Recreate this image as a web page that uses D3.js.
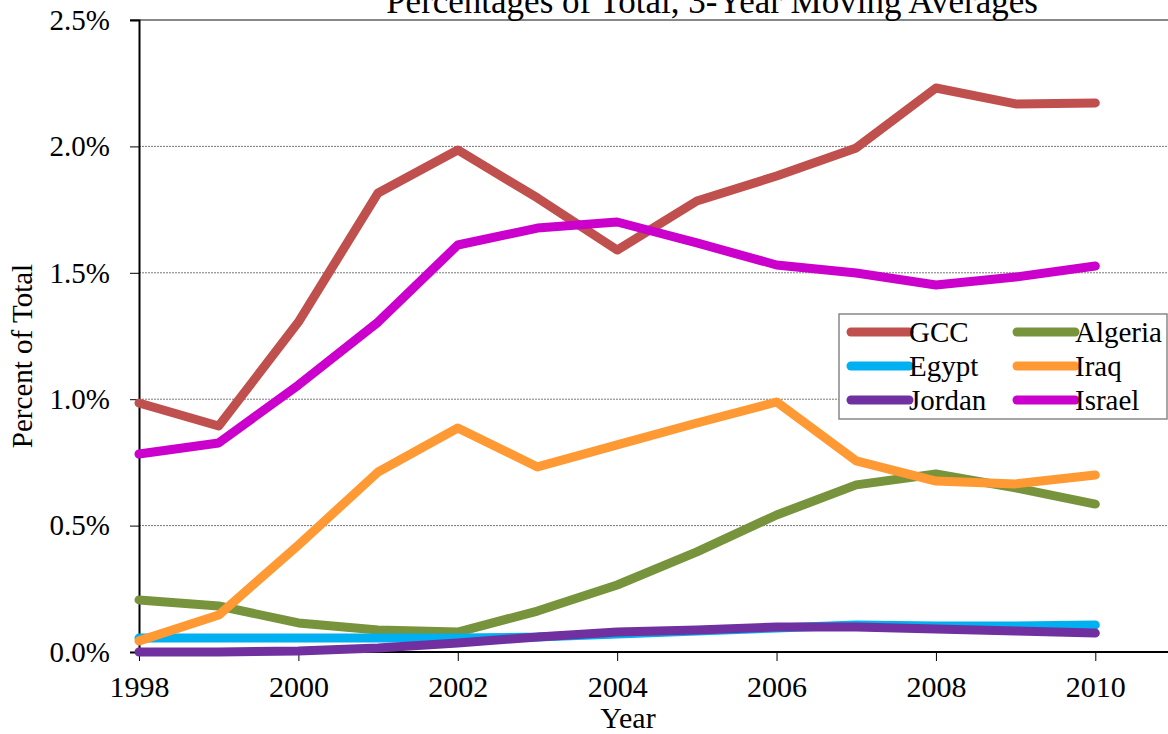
<!DOCTYPE html>
<html>
<head>
<meta charset="utf-8">
<script src="https://cdn.jsdelivr.net/npm/d3@7"></script>
<style>
  body { margin: 0; background: #fff; }
  svg { display: block; font-family: "Liberation Serif", "Times New Roman", serif; }
</style>
</head>
<body>
<svg width="1168" height="734"></svg>
<script>
// years on the x axis
var years = [1998, 1999, 2000, 2001, 2002, 2003, 2004, 2005, 2006, 2007, 2008, 2009, 2010];

// series values, percent of total
var gcc     = [0.985, 0.894, 1.305, 1.816, 1.986, 1.796, 1.590, 1.784, 1.883, 1.994, 2.231, 2.168, 2.172];
var algeria = [0.206, 0.182, 0.115, 0.087, 0.079, 0.162, 0.265, 0.396, 0.542, 0.661, 0.704, 0.649, 0.585];
var egypt   = [0.055, 0.055, 0.055, 0.055, 0.055, 0.059, 0.071, 0.083, 0.095, 0.107, 0.103, 0.103, 0.107];
var iraq    = [0.044, 0.146, 0.423, 0.712, 0.886, 0.732, 0.819, 0.906, 0.989, 0.756, 0.676, 0.665, 0.700];
var jordan  = [0.000, 0.000, 0.004, 0.016, 0.036, 0.059, 0.079, 0.087, 0.099, 0.099, 0.091, 0.083, 0.075];
var israel  = [0.783, 0.827, 1.056, 1.305, 1.610, 1.677, 1.701, 1.618, 1.531, 1.499, 1.452, 1.483, 1.527];

var seriesNames = ["GCC", "Algeria", "Egypt", "Iraq", "Jordan", "Israel"];
var seriesValues = [gcc, algeria, egypt, iraq, jordan, israel];
var colors = ["#C0504D", "#77933C", "#00B0F0", "#FF9933", "#7030A0", "#CC00CC"];

var yTicks = [0, 0.5, 1.0, 1.5, 2.0, 2.5];
var xTicks = [1998, 2000, 2002, 2004, 2006, 2008, 2010];

var title = "Percentages of Total, 3-Year Moving Averages";

// layout
var margin = {top: 20, left: 139},
    plotBottom = 652;

var svg = d3.select("svg");

var xScale = d3.scaleLinear().domain([1998, 2011]).range([139, 1175]);
var yScale = d3.scaleLinear().domain([0, 2.5]).range([plotBottom, margin.top]);

// gridlines
svg.append("g")
  .selectAll("line")
  .data(yTicks.filter(function(d) { return d > 0 && d < 2.5; }))
  .enter().append("line")
    .attr("x1", margin.left)
    .attr("x2", 1168)
    .attr("y1", function(d) { return yScale(d); })
    .attr("y2", function(d) { return yScale(d); })
    .style("stroke", "#777")
    .style("stroke-width", 1)
    .style("stroke-dasharray", "2,1");

// top border of the plot area
svg.append("line")
    .attr("x1", 130).attr("x2", 1168)
    .attr("y1", yScale(2.5)).attr("y2", yScale(2.5))
    .style("stroke", "#888")
    .style("stroke-width", 2);

// Y axis
var yAxis = svg.append("g")
    .attr("transform", "translate(" + margin.left + ",0)")
    .call(d3.axisLeft(yScale).tickValues(yTicks).tickSize(9).tickPadding(20)
      .tickFormat(function(d) { return d.toFixed(1) + "%"; }));
yAxis.select(".domain").style("stroke", "#000").style("stroke-width", 2);
yAxis.selectAll(".tick line").style("stroke", "#000").style("stroke-width", 1);
yAxis.selectAll("text").style("font-size", "29px").style("fill", "#000")
    .style("font-family", "Liberation Serif");

// X axis
var xAxis = svg.append("g")
    .attr("transform", "translate(0," + plotBottom + ")")
    .call(d3.axisBottom(xScale).tickValues(xTicks).tickSize(9).tickPadding(15)
      .tickFormat(d3.format("d")));
xAxis.select(".domain").attr("d", "M" + margin.left + ",0H1168")
    .style("stroke", "#000").style("stroke-width", 2);
xAxis.selectAll(".tick line").style("stroke", "#000").style("stroke-width", 1);
xAxis.selectAll("text").style("font-size", "30px").style("fill", "#000")
    .style("font-family", "Liberation Serif");

// lines
var line = d3.line()
    .x(function(d, i) { return xScale(years[i]); })
    .y(function(d) { return yScale(d); });

svg.append("g")
  .selectAll("path")
  .data(seriesValues)
  .enter().append("path")
    .attr("d", function(d) { return line(d); })
    .style("fill", "none")
    .style("stroke", function(d, i) { return colors[i]; })
    .style("stroke-width", 9)
    .style("stroke-linejoin", "round")
    .style("stroke-linecap", "round");

// title (its top is cut off in the original too)
svg.append("text")
    .attr("x", 712)
    .attr("y", 13)
    .attr("text-anchor", "middle")
    .style("font-size", "35px")
    .text(title);

// axis titles
svg.append("text")
    .attr("transform", "translate(32,356) rotate(-90)")
    .attr("text-anchor", "middle")
    .style("font-size", "29px")
    .text("Percent of Total");

svg.append("text")
    .attr("x", 628)
    .attr("y", 728)
    .attr("text-anchor", "middle")
    .style("font-size", "30px")
    .text("Year");

// legend
var legend = svg.append("g").attr("transform", "translate(839,314)");
legend.append("rect")
    .attr("width", 328).attr("height", 105)
    .style("fill", "#fff")
    .style("stroke", "#888")
    .style("stroke-width", 1.5);

var item = legend.selectAll("g.item")
  .data(seriesNames)
  .enter().append("g")
    .attr("class", "item")
    .attr("transform", function(d, i) {
      return "translate(" + (i % 2 === 0 ? 8 : 174) + "," + (18 + Math.floor(i / 2) * 34) + ")";
    });

item.append("line")
    .attr("x1", 4).attr("x2", 62)
    .attr("y1", 0).attr("y2", 0)
    .style("stroke", function(d, i) { return colors[i]; })
    .style("stroke-width", 9)
    .style("stroke-linecap", "round");

item.append("text")
    .attr("x", 62)
    .attr("y", 10)
    .style("font-size", "29px")
    .text(function(d) { return d; });
</script>
</body>
</html>
